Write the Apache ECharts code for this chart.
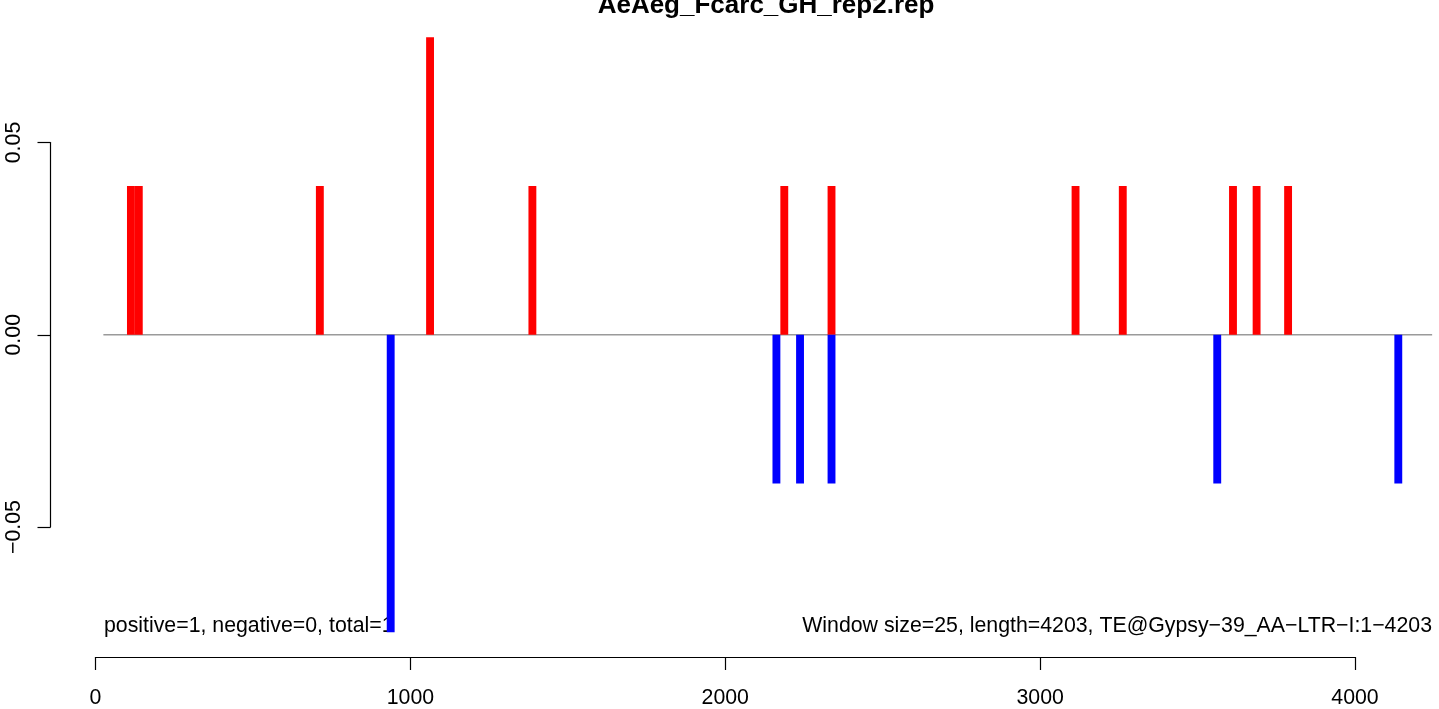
<!DOCTYPE html>
<html>
<head>
<meta charset="utf-8">
<script src="https://cdn.jsdelivr.net/npm/echarts@6/dist/echarts.min.js"></script>
<style>
html,body{margin:0;padding:0;background:#fff;}
#chart{width:1439px;height:709px;}
</style>
</head>
<body>
<div id="chart"></div>
<script>
// ---- data ----
var titleText = 'AeAeg_Fcarc_GH_rep2.rep';
var windowSize = 25;
var positiveStarts = [100, 125, 700, 1050, 1375, 2175, 2325, 3100, 3250, 3600, 3675, 3775];
var positiveValues = [0.0387, 0.0387, 0.0387, 0.0774, 0.0387, 0.0387, 0.0387, 0.0387, 0.0387, 0.0387, 0.0387, 0.0387];
var negativeStarts = [925, 2150, 2225, 2325, 3550, 4125];
var negativeValues = [-0.0774, -0.0387, -0.0387, -0.0387, -0.0387, -0.0387];
var baselineX = [25, 4245];
var xTicks = [0, 1000, 2000, 3000, 4000];
var yTicks = [-0.05, 0.00, 0.05];
var leftNote = 'positive=1, negative=0, total=1';
var rightNote = 'Window size=25, length=4203, TE@Gypsy\u221239_AA\u2212LTR\u2212I:1\u22124203';

var FONT = '"Liberation Sans", Arial, sans-serif';

function pairs(xs, ys) { return xs.map(function (x, i) { return [x, ys[i]]; }); }

function renderBar(params, api) {
  var start = api.value(0), val = api.value(1);
  var p0 = api.coord([start, 0]);
  var p1 = api.coord([start + windowSize, val]);
  return {
    type: 'rect',
    shape: {
      x: p0[0],
      y: Math.min(p0[1], p1[1]),
      width: p1[0] - p0[0],
      height: Math.abs(p1[1] - p0[1])
    },
    style: { fill: api.visual('color') }
  };
}

function renderBaseline(params, api) {
  if (params.dataIndex !== 0) return null;
  var a = api.coord([baselineX[0], 0]);
  var b = api.coord([baselineX[1], 0]);
  return {
    type: 'line',
    shape: { x1: a[0], y1: a[1], x2: b[0], y2: b[1] },
    style: { stroke: '#9a9a9a', lineWidth: 1.5 }
  };
}

var chart = echarts.init(document.getElementById('chart'), null, { renderer: 'canvas' });
chart.setOption({
  animation: false,
  backgroundColor: '#ffffff',
  grid: { left: 95.5, right: 84, top: 142.5, bottom: 181.5, containLabel: false },
  xAxis: {
    type: 'value',
    min: xTicks[0], max: xTicks[xTicks.length - 1], interval: 1000,
    position: 'bottom',
    offset: 130,
    axisLine: { show: true, onZero: false, lineStyle: { color: '#000', width: 1.2 } },
    axisTick: { show: true, length: 13, lineStyle: { color: '#000', width: 1.2 } },
    axisLabel: { color: '#000', fontSize: 21.3, fontFamily: FONT, margin: 31,
      formatter: function (v) { return String(v); } },
    splitLine: { show: false }
  },
  yAxis: {
    type: 'value',
    min: yTicks[0], max: yTicks[yTicks.length - 1], interval: 0.05,
    position: 'left',
    offset: 45,
    axisLine: { show: true, onZero: false, lineStyle: { color: '#000', width: 1.2 } },
    axisTick: { show: true, length: 13, lineStyle: { color: '#000', width: 1.2 } },
    axisLabel: {
      color: '#000', fontSize: 21.3, fontFamily: FONT, rotate: 90, margin: 26,
      formatter: function (v) { return v.toFixed(2).replace('-', '\u2212'); }
    },
    splitLine: { show: false }
  },
  graphic: [
    { type: 'text', z: 0, x: 766, y: 6,
      style: { text: titleText, font: 'bold 26px ' + FONT, fill: '#000', align: 'center', verticalAlign: 'middle' } },
    { type: 'text', z: 0, x: 104, y: 626,
      style: { text: leftNote, font: '21.3px ' + FONT, fill: '#000', align: 'left', verticalAlign: 'middle' } },
    { type: 'text', z: 0, x: 1432, y: 626,
      style: { text: rightNote, font: '21.3px ' + FONT, fill: '#000', align: 'right', verticalAlign: 'middle' } }
  ],
  series: [
    {
      type: 'custom', z: 3, clip: false, silent: true, renderItem: renderBaseline,
      data: pairs(baselineX, [0, 0])
    },
    {
      type: 'custom', z: 5, clip: false, renderItem: renderBar,
      itemStyle: { color: '#ff0000' },
      data: pairs(positiveStarts, positiveValues)
    },
    {
      type: 'custom', z: 5, clip: false, renderItem: renderBar,
      itemStyle: { color: '#0000ff' },
      data: pairs(negativeStarts, negativeValues)
    }
  ]
});
</script>
</body>
</html>
